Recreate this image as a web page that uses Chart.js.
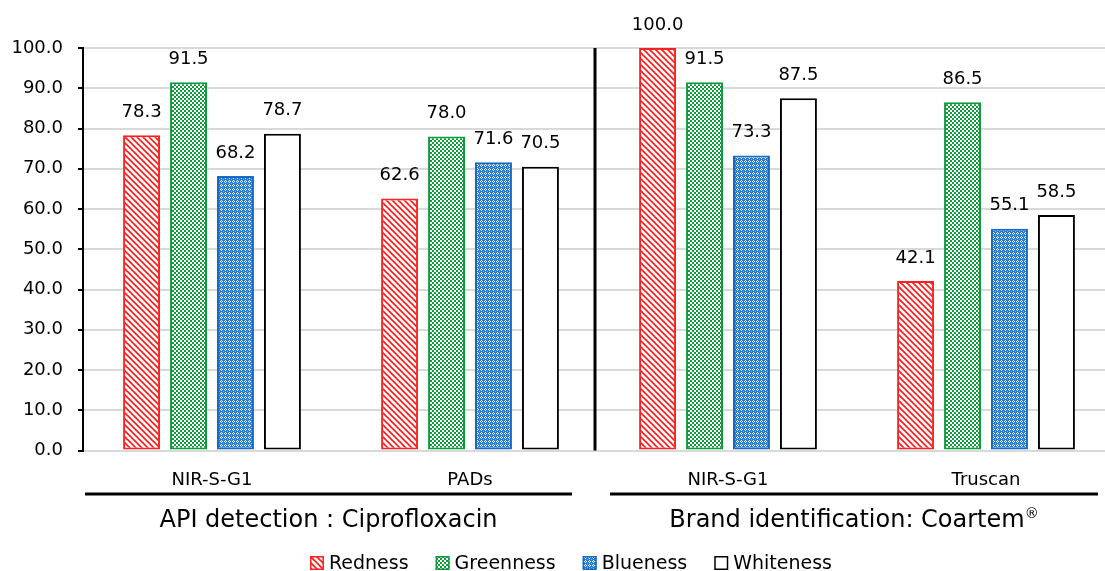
<!DOCTYPE html>
<html>
<head>
<meta charset="utf-8">
<title>Redness, greenness, blueness and whiteness scores</title>
<script src="https://cdn.jsdelivr.net/npm/chart.js@4.4.1/dist/chart.umd.min.js"></script>
<style>
  html, body { margin: 0; padding: 0; background: #ffffff; overflow: hidden; }
  #wrap { width: 1105px; height: 571px; overflow: hidden; }
  canvas { display: block; }
</style>
</head>
<body>
<div id="wrap"><canvas id="chart" width="1116" height="571"></canvas></div>
<script>
// Methods compared on each axis category
const categories = ['NIR-S-G1', 'PADs', 'NIR-S-G1', 'Truscan'];

// Scores per colour dimension (one value per category)
const redness   = [78.3, 62.6, 100.0, 42.1];
const greenness = [91.5, 78.0, 91.5, 86.5];
const blueness  = [68.2, 71.6, 73.3, 55.1];
const whiteness = [78.7, 70.5, 87.5, 58.5];

// Value axis ticks
const yTicks = [0, 10, 20, 30, 40, 50, 60, 70, 80, 90, 100];

// Application groups spanning category indices
const groupLabels = ['API detection : Ciprofloxacin', 'Brand identification: Coartem'];
const groupMarks  = ['', '\u00AE'];
const groupSpans  = [[0, 1], [2, 3]];
const groupInsets = [[2, 27], [11, 17]];

const FONT = "'DejaVu Sans', 'Liberation Sans', Arial, sans-serif";

// ---- fill patterns ----
function makeTile(size, paint) {
  const c = document.createElement('canvas');
  c.width = size; c.height = size;
  const g = c.getContext('2d');
  paint(g, size);
  return document.createElement('canvas').getContext('2d').createPattern(c, 'repeat');
}

const redHatch = makeTile(6, (g, s) => {
  g.fillStyle = '#ffffff'; g.fillRect(0, 0, s, s);
  g.strokeStyle = '#ff1a1a'; g.lineWidth = 1.6;
  g.beginPath();
  g.moveTo(-1, -1); g.lineTo(s + 1, s + 1);
  g.moveTo(-1, s - 1); g.lineTo(1, s + 1);
  g.moveTo(s - 1, -1); g.lineTo(s + 1, 1);
  g.stroke();
});

const greenCheck = makeTile(4, (g, s) => {
  g.fillStyle = '#0f9a3c'; g.fillRect(0, 0, s, s);
  g.fillStyle = '#ffffff';
  g.fillRect(0, 0, 2, 2);
  g.fillRect(2, 2, 2, 2);
});

const blueWeave = makeTile(4, (g, s) => {
  g.fillStyle = '#1f7bd6'; g.fillRect(0, 0, s, s);
  g.fillStyle = '#ffffff';
  g.fillRect(1, 0, 1, 1);
  g.fillRect(0, 1, 1, 1);
  g.fillRect(2, 1, 1, 1);
  g.fillRect(1, 2, 1, 1);
  g.fillStyle = '#7db6ee';
  g.fillRect(3, 3, 1, 1);
});

const datasets = [
  { label: 'Redness',   data: redness,   backgroundColor: redHatch,   borderColor: '#ff2020' },
  { label: 'Greenness', data: greenness, backgroundColor: greenCheck, borderColor: '#109a3e' },
  { label: 'Blueness',  data: blueness,  backgroundColor: blueWeave,  borderColor: '#1769c4' },
  { label: 'Whiteness', data: whiteness, backgroundColor: '#ffffff',  borderColor: '#000000' }
].map(d => Object.assign(d, {
  borderWidth: 2,
  borderSkipped: false,
  categoryPercentage: 0.728,
  barPercentage: 0.787
}));

// value labels above each bar
const valueLabels = {
  id: 'valueLabels',
  afterDatasetsDraw(chart) {
    const ctx = chart.ctx;
    ctx.save();
    ctx.font = '18px ' + FONT;
    ctx.fillStyle = '#000000';
    ctx.textAlign = 'center';
    ctx.textBaseline = 'middle';
    chart.data.datasets.forEach((ds, i) => {
      chart.getDatasetMeta(i).data.forEach((bar, j) => {
        ctx.fillText(ds.data[j].toFixed(1), bar.x, bar.y - 23);
      });
    });
    ctx.restore();
  }
};

// separator between the two application groups, group captions and legend
const decorations = {
  id: 'decorations',
  afterDraw(chart) {
    const ctx = chart.ctx;
    const x = chart.scales.x, y = chart.scales.y;
    const half = (x.getPixelForTick(1) - x.getPixelForTick(0)) / 2;
    ctx.save();

    // vertical separator
    const sepX = (x.getPixelForTick(1) + x.getPixelForTick(2)) / 2 - 4;
    ctx.strokeStyle = '#000000';
    ctx.lineWidth = 3;
    ctx.beginPath();
    ctx.moveTo(sepX, y.getPixelForValue(100));
    ctx.lineTo(sepX, y.getPixelForValue(0));
    ctx.stroke();

    // group underline and caption
    ctx.fillStyle = '#000000';
    ctx.textBaseline = 'middle';
    groupSpans.forEach((span, k) => {
      const l = x.getPixelForTick(span[0]) - half + groupInsets[k][0];
      const r = x.getPixelForTick(span[1]) + half - groupInsets[k][1];
      ctx.lineWidth = 3;
      ctx.beginPath();
      ctx.moveTo(l, 494);
      ctx.lineTo(r, 494);
      ctx.stroke();
      ctx.font = '24px ' + FONT;
      const w1 = ctx.measureText(groupLabels[k]).width;
      ctx.font = '14px ' + FONT;
      const w2 = ctx.measureText(groupMarks[k]).width;
      const start = (l + r) / 2 - (w1 + w2) / 2;
      ctx.textAlign = 'left';
      ctx.font = '24px ' + FONT;
      ctx.fillText(groupLabels[k], start, 521);
      if (groupMarks[k]) {
        ctx.font = '14px ' + FONT;
        ctx.fillText(groupMarks[k], start + w1, 514);
      }
    });

    // legend
    ctx.font = '19px ' + FONT;
    ctx.textAlign = 'left';
    const box = 14, gapBox = 5, gapItem = 27, cy = 563;
    const items = chart.data.datasets.map(ds => ({ ds, w: ctx.measureText(ds.label).width }));
    const total = items.reduce((s, it) => s + box + gapBox + it.w, 0) + gapItem * (items.length - 1);
    let cx = 571 - total / 2;
    items.forEach(it => {
      ctx.fillStyle = it.ds.backgroundColor;
      ctx.fillRect(cx, cy - box / 2, box, box);
      ctx.strokeStyle = it.ds.borderColor;
      ctx.lineWidth = 1.5;
      ctx.strokeRect(cx + 0.75, cy - box / 2 + 0.75, box - 1.5, box - 1.5);
      ctx.fillStyle = '#000000';
      ctx.fillText(it.ds.label, cx + box + gapBox, cy + 1);
      cx += box + gapBox + it.w + gapItem;
    });
    ctx.restore();
  }
};

new Chart(document.getElementById('chart'), {
  type: 'bar',
  data: { labels: categories, datasets },
  options: {
    responsive: false,
    animation: false,
    devicePixelRatio: 1,
    layout: { padding: { top: 48, right: 1, bottom: 0, left: 0 } },
    plugins: {
      legend: { display: false },
      tooltip: { enabled: false }
    },
    scales: {
      x: {
        offset: true,
        grid: { display: false, drawTicks: false },
        border: { display: false },
        ticks: {
          font: { family: FONT, size: 18 },
          color: '#000000',
          padding: 19,
          maxRotation: 0,
          autoSkip: false
        },
        afterFit(scale) {
          scale.height = 120.5;
          scale.paddingLeft = 0;
          scale.paddingRight = 0;
        }
      },
      y: {
        min: 0,
        max: 100,
        afterBuildTicks(scale) {
          scale.ticks = yTicks.map(v => ({ value: v }));
        },
        grid: {
          color: '#d9d9d9',
          lineWidth: 2,
          drawTicks: true,
          tickLength: 5,
          tickColor: '#000000',
          tickWidth: 2
        },
        border: { display: true, color: '#000000', width: 2 },
        ticks: {
          font: { family: FONT, size: 18 },
          color: '#000000',
          padding: 15,
          callback: v => Number(v).toFixed(1)
        },
        afterFit(scale) {
          scale.width = 83;
          scale.paddingTop = 0;
          scale.paddingBottom = 0;
        }
      }
    }
  },
  plugins: [valueLabels, decorations]
});
</script>
</body>
</html>
